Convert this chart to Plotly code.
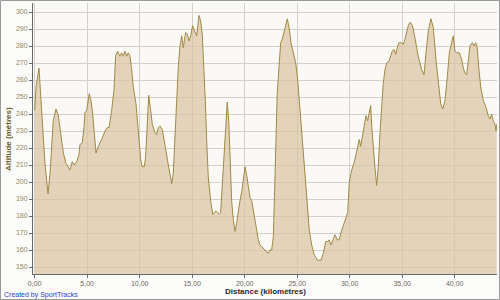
import plotly.graph_objects as go

distance_km = [
    0.00, 0.13, 0.41, 0.60, 0.89, 0.98, 1.27, 1.46, 1.77, 2.03, 2.25, 2.48, 2.73, 2.98,
    3.20, 3.36, 3.58, 3.77, 4.00, 4.22, 4.31, 4.53, 4.70, 4.79, 4.95, 5.20, 5.36, 5.49,
    5.68, 5.84, 6.06, 6.38, 6.70, 6.91, 7.08, 7.33, 7.55, 7.71, 7.90, 8.12, 8.28, 8.44,
    8.60, 8.76, 8.91, 9.08, 9.24, 9.39, 9.65, 9.87, 10.10, 10.25, 10.44, 10.57, 10.76,
    10.86, 11.05, 11.20, 11.46, 11.62, 11.77, 11.93, 12.15, 12.34, 12.57, 12.67, 12.89,
    13.05, 13.20, 13.36, 13.52, 13.68, 13.84, 14.00, 14.15, 14.38, 14.54, 14.70, 14.86,
    15.04, 15.20, 15.43, 15.65, 15.80, 15.96, 16.12, 16.25, 16.38, 16.53, 16.76, 16.95,
    17.10, 17.27, 17.43, 17.58, 17.71, 17.90, 18.12, 18.29, 18.34, 18.48, 18.60, 18.76,
    18.91, 19.08, 19.24, 19.39, 19.55, 19.74, 19.87, 20.03, 20.19, 20.34, 20.50, 20.67,
    20.82, 20.98, 21.14, 21.30, 21.46, 21.77, 22.03, 22.25, 22.40, 22.57, 22.73, 22.89,
    22.98, 23.10, 23.27, 23.43, 23.58, 23.74, 23.90, 24.06, 24.22, 24.41, 24.63, 24.86,
    25.05, 25.27, 25.49, 25.74, 25.96, 26.15, 26.38, 26.63, 26.95, 27.27, 27.49, 27.71,
    27.90, 28.03, 28.22, 28.44, 28.60, 28.82, 29.00, 29.20, 29.39, 29.55, 29.65, 29.81,
    29.96, 30.19, 30.41, 30.60, 30.76, 30.91, 31.05, 31.20, 31.39, 31.55, 31.71, 31.86,
    32.00, 32.10, 32.25, 32.40, 32.57, 32.72, 32.89, 33.05, 33.20, 33.36, 33.52, 33.74,
    33.90, 34.06, 34.22, 34.38, 34.57, 34.72, 34.88, 35.10, 35.27, 35.43, 35.58, 35.74,
    35.90, 36.06, 36.22, 36.53, 36.86, 37.08, 37.27, 37.49, 37.74, 37.96, 38.22, 38.44,
    38.67, 38.86, 39.08, 39.30, 39.49, 39.71, 39.87, 40.03, 40.19, 40.44, 40.67, 40.82,
    40.98, 41.14, 41.30, 41.46, 41.68, 41.84, 42.00, 42.15, 42.31, 42.48, 42.72, 42.98,
    43.20, 43.36, 43.52, 43.68, 43.84, 43.94, 44.00,
]
altitude_m = [
    242, 256, 267, 248, 223, 211, 193, 205, 236, 243, 239, 229, 217, 211,
    209, 207, 212, 210, 212, 216, 222, 223, 232, 241, 242, 252, 248, 242,
    229, 217, 221, 225, 230, 232, 232, 242, 254, 274, 277, 274, 276, 274,
    277, 274, 276, 274, 266, 256, 246, 231, 213, 209, 209, 215, 236,
    251, 242, 234, 229, 228, 232, 233, 231, 225, 216, 212, 205,
    199, 205, 229, 248, 268, 280, 286, 279, 288, 287, 283, 286,
    292, 289, 286, 298, 295, 287, 268, 248, 225, 203, 189, 181,
    182, 183, 182, 181, 182, 203, 225, 240, 247, 236, 215, 189,
    178, 171, 176, 183, 189, 195, 201, 209, 204, 198, 191, 189,
    183, 178, 170, 166, 163, 161, 159, 158, 160, 160, 168, 199,
    228, 252, 268, 282, 284, 288, 293, 296, 291, 282, 276, 270,
    260, 242, 225, 205, 186, 172, 163, 157, 154, 154, 158, 165,
    165, 166, 163, 166, 169, 166, 166, 171, 174, 177, 179, 182,
    200, 207, 211, 216, 220, 225, 221, 227, 232, 239, 236, 242,
    245, 233, 219, 209, 198, 209, 229, 244, 258, 266, 270, 271,
    274, 277, 278, 275, 280, 282, 282, 281, 284, 288, 292, 294,
    293, 290, 285, 274, 266, 263, 276, 289, 296, 291, 272, 258,
    246, 243, 248, 262, 276, 282, 286, 277, 276, 276, 272, 267,
    264, 263, 270, 280, 282, 280, 282, 279, 266, 256, 248, 244,
    239, 237, 240, 236, 234, 230, 234,
]

x_tick_values = [0, 5, 10, 15, 20, 25, 30, 35, 40]
y_tick_values = list(range(150, 301, 10))

W, H = 500, 300
ML, MR, MT, MB = 33, 3, 3, 26
PW, PH = W - ML - MR, H - MT - MB


def px(x):
    return (x - ML) / PW


def py(y):
    return (H - MB - y) / PH


fig = go.Figure()
fig.add_trace(go.Scatter(
    x=distance_km, y=altitude_m, mode="lines",
    line=dict(color="#a08a45", width=1),
    fill="tozeroy", fillcolor="rgba(217,196,164,0.72)",
    hoverinfo="skip", showlegend=False,
))

tick_font = dict(family="Liberation Sans, Arial, sans-serif", size=7)

fig.update_layout(
    width=W, height=H,
    margin=dict(l=ML, r=MR, t=MT, b=MB, pad=0),
    paper_bgcolor="#fbfbf9",
    plot_bgcolor="#faf9f5",
    separators=",.",
    showlegend=False,
    xaxis=dict(
        range=[-0.16, 44.03], tickvals=x_tick_values, tickformat=".2f",
        showgrid=True, gridcolor="#d2d1cc", gridwidth=1,
        showline=True, linecolor="#6a6a6a", linewidth=1,
        ticks="outside", ticklen=3, tickcolor="#6a6a6a",
        tickfont=dict(tick_font, color="#6f6a5c"),
        zeroline=False, fixedrange=True,
    ),
    yaxis=dict(
        range=[145.9, 305.3], tickvals=y_tick_values, tickformat="d",
        showgrid=True, gridcolor="#d2d1cc", gridwidth=1,
        showline=True, linecolor="#6a6a6a", linewidth=1,
        ticks="outside", ticklen=3, tickcolor="#6a6a6a",
        tickfont=dict(tick_font, color="#958762"),
        zeroline=False, fixedrange=True,
    ),
    annotations=[
        dict(text="<b>Altitude (mètres)</b>", xref="paper", yref="paper",
             x=px(8), y=py(139), textangle=-90, showarrow=False,
             xanchor="center", yanchor="middle",
             font=dict(family="Liberation Sans, Arial, sans-serif", size=8, color="#6b5a1e")),
        dict(text="<b>Distance (kilomètres)</b>", xref="paper", yref="paper",
             x=px(265), y=py(291.5), showarrow=False,
             xanchor="center", yanchor="middle",
             font=dict(family="Liberation Sans, Arial, sans-serif", size=8, color="#2b2b2b")),
        dict(text="Created by SportTracks", xref="paper", yref="paper",
             x=px(2), y=py(295), showarrow=False,
             xanchor="left", yanchor="middle",
             font=dict(family="Liberation Sans, Arial, sans-serif", size=7, color="#3340cc")),
    ],
    shapes=[
        dict(type="rect", xref="paper", yref="paper",
             x0=px(0.5), x1=px(W - 0.5), y0=py(H - 0.5), y1=py(0.5),
             line=dict(color="#9a9a9a", width=1), fillcolor="rgba(0,0,0,0)",
             layer="above"),
    ],
)

fig.write_html("out.html", config={"displayModeBar": False})
